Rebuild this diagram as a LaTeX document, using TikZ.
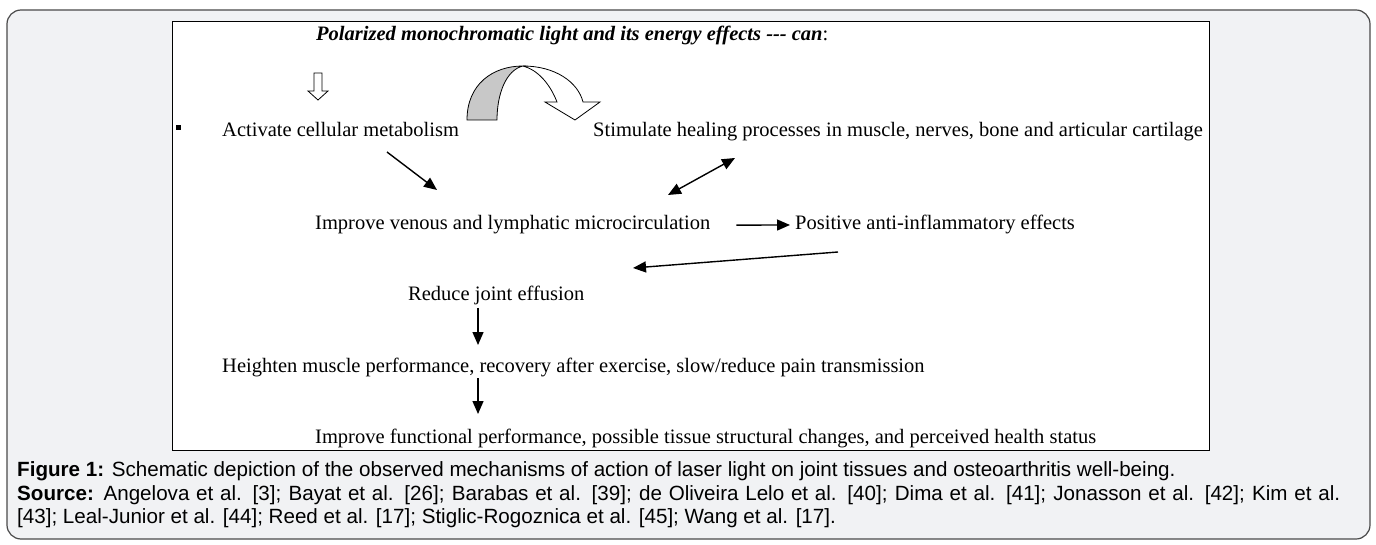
\documentclass[tikz,border=0pt]{standalone}
\usepackage{fontspec}
\setmainfont{Liberation Serif}
\newfontfamily\capfont{Liberation Sans}
\usetikzlibrary{arrows.meta,positioning}
\definecolor{panelgray}{HTML}{F1F2F4}
\definecolor{framegray}{HTML}{4A4A4A}
\definecolor{bandgray}{HTML}{C8C8C8}

\begin{document}
\begin{tikzpicture}[x=1pt,y=-1pt,
every node/.style={inner sep=0pt,anchor=base west},
txt/.style={font=\fontsize{20.5}{24}\selectfont},
captxt/.style={font=\capfont\fontsize{20.6}{24}\selectfont},
arr/.style={line width=1.4pt,-{Triangle[length=13pt,width=11pt]}},
darr/.style={line width=1.4pt,{Triangle[length=13pt,width=11pt]}-{Triangle[length=13pt,width=11pt]}}]

\useasboundingbox (0,0) rectangle (1376,545);
% panel and figure frame
\draw[framegray,fill=panelgray,line width=1.2pt,rounded corners=14pt] (7,10) rectangle (1370,539);
\draw[fill=white,line width=0.9pt] (172,21) rectangle (1209,450);

% texts
\node[txt] (T) at (316,41) {\bfseries\itshape Polarized monochromatic light and its energy effects {-}{-}{-} can\normalfont:};
\node[txt] (A) at (222,137) {Activate cellular metabolism};
\node[txt] (S) at (593,137) {Stimulate healing processes in muscle, nerves, bone and articular cartilage};
\node[txt] (V) at (315,230) {Improve venous and lymphatic microcirculation};
\node[txt] (P) at (795,230) {Positive anti-inflammatory effects};
\node[txt] (R) at (408,301) {Reduce joint effusion};
\node[txt] (H) at (222,372) {Heighten muscle performance, recovery after exercise, slow/reduce pain transmission};
\node[txt] (F) at (315,443) {Improve functional performance, possible tissue structural changes, and perceived health status};

\node[captxt] (C1) at (17,476) {\textbf{Figure 1:} Schematic depiction of the observed mechanisms of action of laser light on joint tissues and osteoarthritis well-being.};
\node[captxt] (C2) at (17,500) {\makebox[1323pt][s]{\textbf{Source:} Angelova et al. [3]; Bayat et al. [26]; Barabas et al. [39]; de Oliveira Lelo et al. [40]; Dima et al. [41]; Jonasson et al. [42]; Kim et al.}};
\node[captxt] (C3) at (17,523) {[43]; Leal-Junior et al. [44]; Reed et al. [17]; Stiglic-Rogoznica et al. [45]; Wang et al. [17].};

% bullet and hollow arrow
\fill (176,125) rectangle (181,130);
\draw[line width=0.8pt,fill=white] (314,73) -- (322,73) -- (322,91) -- (328,91) -- (318,100) -- (308,91) -- (314,91) -- cycle;

% curved arrow
\draw[line width=0.8pt,fill=bandgray] (467,120) .. controls (467,84) and (493,66) .. (523,66)
  .. controls (506,70) and (497,94) .. (497,120) -- cycle;
\draw[line width=0.8pt,fill=white] (523,66) .. controls (555,66) and (578,82) .. (583,102)
  -- (600,102) -- (575,120) -- (545,102) -- (557,102) .. controls (550,84) and (538,70) .. (523,66);

% connectors
\coordinate (a1) at (387,152);
\coordinate (a2) at (437,190);
\coordinate (b1) at (735,158);
\coordinate (b2) at (668,195);
\coordinate (c1) at (838,252);
\coordinate (c2) at (633,268);
\coordinate (d1) at (478,308);
\coordinate (d2) at (478,345);
\coordinate (e1) at (478,378);
\coordinate (e2) at (478,414);
\draw[arr] (a1) -- (a2);
\draw[darr] (b1) -- (b2);
\draw[arr] ([xshift=26pt]V.east) -- ([xshift=-5pt]P.west);
\draw[arr] (c1) -- (c2);
\draw[arr] (d1) -- (d2);
\draw[arr] (e1) -- (e2);
\end{tikzpicture}
\end{document}
